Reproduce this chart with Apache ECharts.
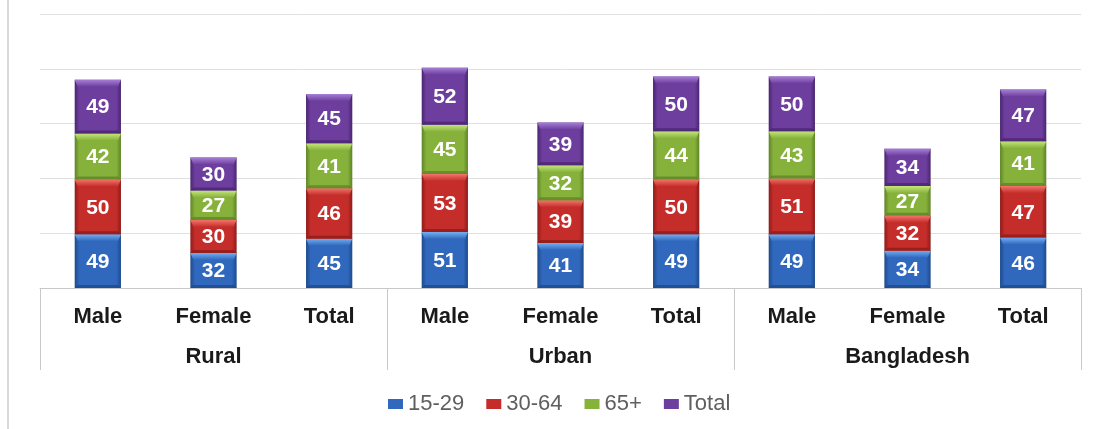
<!DOCTYPE html>
<html>
<head>
<meta charset="utf-8">
<script src="https://cdn.jsdelivr.net/npm/echarts@6/dist/echarts.min.js"></script>
<style>
  html, body { margin: 0; padding: 0; background: #fff; }
  #chart { width: 1096px; height: 429px; }
</style>
</head>
<body>
<div id="chart"></div>
<script>
// Sub-categories along the axis and the regions that group them
const categories = ['Male', 'Female', 'Total', 'Male', 'Female', 'Total', 'Male', 'Female', 'Total'];
const groups = ['Rural', 'Urban', 'Bangladesh'];

// Values per age band, in category order
const age15to29 = [49, 32, 45, 51, 41, 49, 49, 34, 46];
const age30to64 = [50, 30, 46, 53, 39, 50, 51, 32, 47];
const age65plus = [42, 27, 41, 45, 32, 44, 43, 27, 41];
const ageTotal  = [49, 30, 45, 52, 39, 50, 50, 34, 47];

const seriesNames = ['15-29', '30-64', '65+', 'Total'];
const seriesValues = [age15to29, age30to64, age65plus, ageTotal];

// Face, highlight and shadow tones for each band
const palette = [
  { base: '#2f68bd', light: '#74aef0', dark: '#1e4a8c' },
  { base: '#c42d2a', light: '#f2746a', dark: '#8e1c1a' },
  { base: '#86b23c', light: '#c6e67a', dark: '#5f8426' },
  { base: '#6d3e9e', light: '#a67fd6', dark: '#4a2670' }
];

const FONT = 'Arial, "Liberation Sans", sans-serif';

// Stack the bands: each item is [categoryIndex, bottom, top, value]
const running = categories.map(() => 0);
const stacked = seriesValues.map(values =>
  values.map((v, i) => {
    const bottom = running[i];
    running[i] += v;
    return [i, bottom, running[i], v];
  })
);

function bevelRenderer(tone) {
  return function (params, api) {
    const idx = api.value(0);
    const pBottom = api.coord([idx, api.value(1)]);
    const pTop = api.coord([idx, api.value(2)]);
    const w = api.size([1, 0])[0] * 0.4;
    const l = pBottom[0] - w / 2, r = l + w;
    const t = pTop[1], b = pBottom[1];
    const bt = 7, bs = 3, bb = 3;
    return {
      type: 'group',
      children: [
        { type: 'rect', shape: { x: l, y: t, width: w, height: b - t },
          style: { fill: new echarts.graphic.LinearGradient(0, 0, 1, 0, [
            { offset: 0, color: tone.dark }, { offset: 0.1, color: tone.base },
            { offset: 0.9, color: tone.base }, { offset: 1, color: tone.dark }]) } },
        { type: 'polygon', shape: { points: [[l, t], [r, t], [r - bs, t + bt], [l + bs, t + bt]] },
          style: { fill: new echarts.graphic.LinearGradient(0, 0, 0, 1, [
            { offset: 0, color: tone.light }, { offset: 1, color: tone.base }]) } },
        { type: 'polygon', shape: { points: [[l, b], [r, b], [r - bs, b - bb], [l + bs, b - bb]] },
          style: { fill: tone.dark, opacity: 0.8 } },
        { type: 'text', style: {
            text: String(api.value(3)), x: (l + r) / 2, y: (t + b) / 2 + 1,
            align: 'center', verticalAlign: 'middle',
            fill: '#ffffff', font: 'bold 21px ' + FONT } }
      ]
    };
  };
}

const chart = echarts.init(document.getElementById('chart'));
chart.setOption({
  animation: false,
  backgroundColor: '#ffffff',
  graphic: [
    { type: 'rect', left: 7, top: 0, shape: { width: 2, height: 429 }, style: { fill: '#d9d9d9' } }
  ],
  grid: { left: 40, right: 15, top: 14, bottom: 141, containLabel: false },
  legend: {
    top: 393, left: 388, padding: 0,
    itemWidth: 15, itemHeight: 10, itemGap: 22,
    icon: 'rect',
    textStyle: { fontFamily: FONT, fontSize: 22, color: '#5f5f5f' },
    data: seriesNames
  },
  xAxis: [
    {
      type: 'category', data: categories, position: 'bottom',
      axisLine: { lineStyle: { color: '#c8c8c8', width: 1 } },
      axisTick: { show: false },
      axisLabel: { margin: 18, fontFamily: FONT, fontSize: 22, fontWeight: 'bold', color: '#1a1a1a', interval: 0 }
    },
    {
      type: 'category', data: groups, position: 'bottom', offset: 0,
      axisLine: { show: false },
      axisTick: { show: true, length: 82, lineStyle: { color: '#c8c8c8' } },
      axisLabel: { margin: 58, fontFamily: FONT, fontSize: 22, fontWeight: 'bold', color: '#1a1a1a' }
    }
  ],
  yAxis: {
    type: 'value', min: 0, max: 250, interval: 50,
    axisLine: { show: false }, axisTick: { show: false }, axisLabel: { show: false },
    splitLine: { lineStyle: { color: '#e0e0e0' } }
  },
  series: seriesNames.map((name, s) => ({
    name,
    type: 'custom',
    xAxisIndex: 0,
    itemStyle: { color: palette[s].base },
    encode: { x: 0, y: [1, 2] },
    data: stacked[s],
    renderItem: bevelRenderer(palette[s])
  }))
});
</script>
</body>
</html>
